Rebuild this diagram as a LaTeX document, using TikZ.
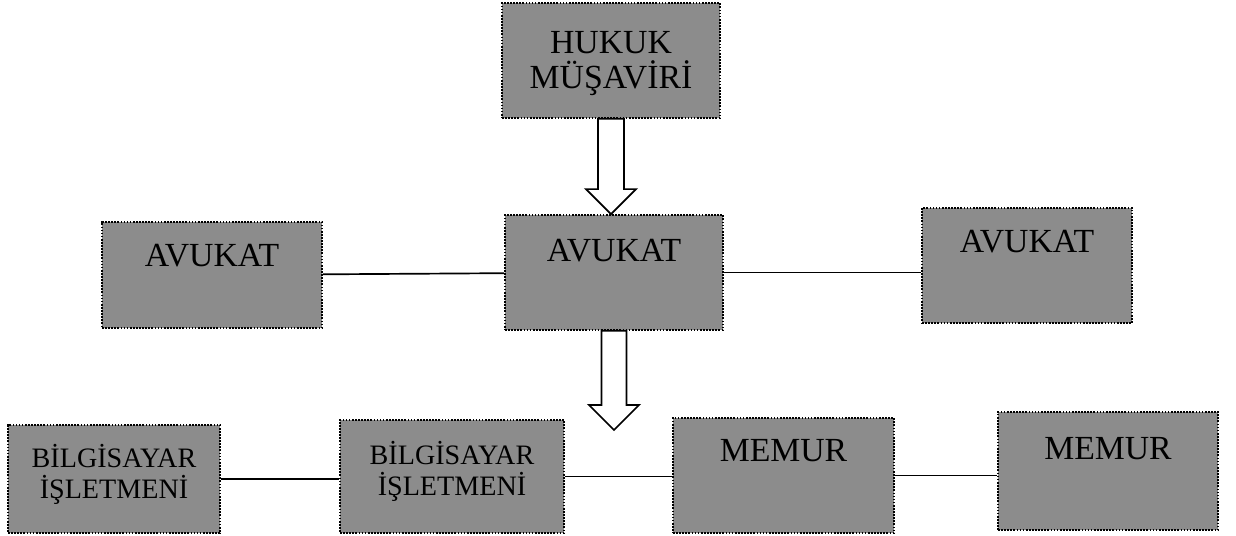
\documentclass[tikz,border=0pt]{standalone}
\usepackage{fontspec}
\setmainfont{Liberation Serif}
\usetikzlibrary{calc}

\tikzset{
	kutu/.style={draw=black, densely dotted, line width=1.2pt, fill=black!45, inner sep=0pt},
	yazi/.style={anchor=north, align=center, text=black, inner sep=0pt, font=\fontsize{24}{25}\selectfont},
	kucukyazi/.style={yazi, font=\fontsize{20}{22}\selectfont},
	blok/.style={draw=black, line width=1.2pt, fill=white},
	hat/.style={draw=black, line width=1.2pt}
}

\begin{document}
\begin{tikzpicture}[x=0.025cm,y=-0.025cm]
\fill[white] (0,0) rectangle (1236,535);
\useasboundingbox (0,0) rectangle (1236,535);

\node[kutu, minimum width=5.45cm, minimum height=2.875cm, label={[yazi, yshift=-0.72cm]north:HUKUK\\MÜŞAVİRİ}] (hukuk) at (611,60.5) {};

\node[kutu, minimum width=5.45cm, minimum height=2.875cm, label={[yazi, yshift=-0.62cm]north:AVUKAT}] (orta) at (614,272.5) {};
\node[kutu, minimum width=5.5cm, minimum height=2.65cm, label={[yazi, yshift=-0.58cm]north:AVUKAT}] (sol) at (212,275) {};
\node[kutu, minimum width=5.25cm, minimum height=2.875cm, label={[yazi, yshift=-0.58cm]north:AVUKAT}] (sag) at (1027,265.5) {};

\node[kutu, minimum width=5.3cm, minimum height=2.7cm, label={[kucukyazi, yshift=-0.5cm]north:BİLGİSAYAR\\İŞLETMENİ}] (bilgi1) at (114,479) {};
\node[kutu, minimum width=5.6cm, minimum height=2.825cm, label={[kucukyazi, yshift=-0.55cm]north:BİLGİSAYAR\\İŞLETMENİ}] (bilgi2) at (452,476.5) {};
\node[kutu, minimum width=5.525cm, minimum height=2.875cm, label={[yazi, yshift=-0.55cm]north:MEMUR}] (memur1) at (783.5,475.5) {};
\node[kutu, minimum width=5.5cm, minimum height=2.95cm, label={[yazi, yshift=-0.65cm]north:MEMUR}] (memur2) at (1108,471) {};

\coordinate (ucalt) at (614,430);

% block arrows
\draw[blok] ($(hukuk.south)+(-13,0)$) -- ($(hukuk.south |- orta.north)+(-13,-25)$) -- ++(-12,0) -- (hukuk.south |- orta.north) -- ++(25,-25) -- ++(-12,0) -- ($(hukuk.south)+(13,0)$) -- cycle;
\draw[blok] ($(orta.south)+(-12.5,0)$) -- ($(ucalt)+(-12.5,-25)$) -- ++(-12.5,0) -- (ucalt) -- ++(25,-25) -- ++(-12.5,0) -- ($(orta.south)+(12.5,0)$) -- cycle;

\draw[hat] (sol) -- (orta);
\draw[hat] (orta.east) -- (orta.east -| sag.west);

\draw[hat] (bilgi1.east) -- (bilgi1.east -| bilgi2.west);
\draw[hat] (bilgi2.east) -- (bilgi2.east -| memur1.west);
\draw[hat] (memur1.east) -- (memur1.east -| memur2.west);

\end{tikzpicture}
\end{document}
